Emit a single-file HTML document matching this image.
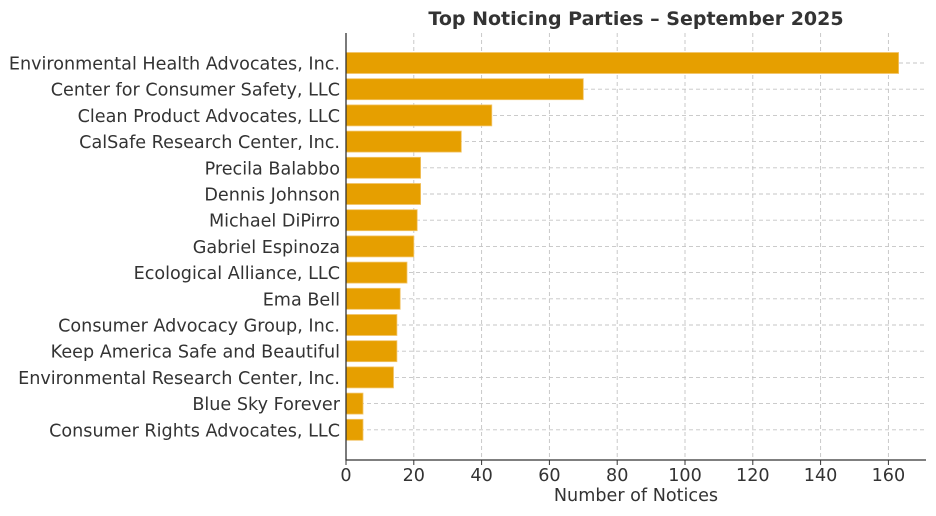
<!DOCTYPE html>
<html><head><meta charset="utf-8"><style>
html,body{margin:0;padding:0;background:#fff;}
svg{display:block;font-family:"DejaVu Sans","Liberation Sans",sans-serif;}
</style></head><body>
<svg width="936" height="516" viewBox="0 0 936 516" xmlns="http://www.w3.org/2000/svg">
<rect width="936" height="516" fill="#fff"/>
<g stroke="#c4c4c4" stroke-width="0.9" stroke-dasharray="4,3">
<line x1="413.8" y1="33" x2="413.8" y2="460"/>
<line x1="481.6" y1="33" x2="481.6" y2="460"/>
<line x1="549.4" y1="33" x2="549.4" y2="460"/>
<line x1="617.2" y1="33" x2="617.2" y2="460"/>
<line x1="685" y1="33" x2="685" y2="460"/>
<line x1="752.8" y1="33" x2="752.8" y2="460"/>
<line x1="820.6" y1="33" x2="820.6" y2="460"/>
<line x1="888.4" y1="33" x2="888.4" y2="460"/>
<line x1="346" y1="63" x2="925" y2="63"/>
<line x1="346" y1="89.2" x2="925" y2="89.2"/>
<line x1="346" y1="115.4" x2="925" y2="115.4"/>
<line x1="346" y1="141.6" x2="925" y2="141.6"/>
<line x1="346" y1="167.8" x2="925" y2="167.8"/>
<line x1="346" y1="194" x2="925" y2="194"/>
<line x1="346" y1="220.2" x2="925" y2="220.2"/>
<line x1="346" y1="246.4" x2="925" y2="246.4"/>
<line x1="346" y1="272.6" x2="925" y2="272.6"/>
<line x1="346" y1="298.8" x2="925" y2="298.8"/>
<line x1="346" y1="325" x2="925" y2="325"/>
<line x1="346" y1="351.2" x2="925" y2="351.2"/>
<line x1="346" y1="377.4" x2="925" y2="377.4"/>
<line x1="346" y1="403.6" x2="925" y2="403.6"/>
<line x1="346" y1="429.8" x2="925" y2="429.8"/>
</g>
<g fill="#E69F00" stroke="#f3c56a" stroke-width="0.8">
<rect x="346" y="52.5" width="552.6" height="21"/>
<rect x="346" y="78.7" width="237.3" height="21"/>
<rect x="346" y="104.9" width="145.8" height="21"/>
<rect x="346" y="131.1" width="115.3" height="21"/>
<rect x="346" y="157.3" width="74.6" height="21"/>
<rect x="346" y="183.5" width="74.6" height="21"/>
<rect x="346" y="209.7" width="71.2" height="21"/>
<rect x="346" y="235.9" width="67.8" height="21"/>
<rect x="346" y="262.1" width="61" height="21"/>
<rect x="346" y="288.3" width="54.2" height="21"/>
<rect x="346" y="314.5" width="50.9" height="21"/>
<rect x="346" y="340.7" width="50.9" height="21"/>
<rect x="346" y="366.9" width="47.5" height="21"/>
<rect x="346" y="393.1" width="17" height="21"/>
<rect x="346" y="419.3" width="17" height="21"/>
</g>
<g stroke="#333" stroke-width="1.3">
<line x1="346" y1="33" x2="346" y2="460.5"/>
<line x1="345.5" y1="460" x2="926" y2="460"/>
</g>
<g stroke="#333" stroke-width="1">
<line x1="346" y1="460" x2="346" y2="465"/><line x1="413.8" y1="460" x2="413.8" y2="465"/><line x1="481.6" y1="460" x2="481.6" y2="465"/><line x1="549.4" y1="460" x2="549.4" y2="465"/><line x1="617.2" y1="460" x2="617.2" y2="465"/><line x1="685" y1="460" x2="685" y2="465"/><line x1="752.8" y1="460" x2="752.8" y2="465"/><line x1="820.6" y1="460" x2="820.6" y2="465"/><line x1="888.4" y1="460" x2="888.4" y2="465"/>
</g>
<g fill="#333" font-size="17.6" text-anchor="middle">
<text x="346" y="481">0</text><text x="413.8" y="481">20</text><text x="481.6" y="481">40</text><text x="549.4" y="481">60</text><text x="617.2" y="481">80</text><text x="685" y="481">100</text><text x="752.8" y="481">120</text><text x="820.6" y="481">140</text><text x="888.4" y="481">160</text>
<text x="636" y="501">Number of Notices</text>
<text x="636" y="25" font-weight="bold" font-size="19">Top Noticing Parties – September 2025</text>
</g>
<g fill="#333" font-size="17.6" text-anchor="end">
<text x="340" y="69.5">Environmental Health Advocates, Inc.</text>
<text x="340" y="95.7">Center for Consumer Safety, LLC</text>
<text x="340" y="121.9">Clean Product Advocates, LLC</text>
<text x="340" y="148.1">CalSafe Research Center, Inc.</text>
<text x="340" y="174.3">Precila Balabbo</text>
<text x="340" y="200.5">Dennis Johnson</text>
<text x="340" y="226.7">Michael DiPirro</text>
<text x="340" y="252.9">Gabriel Espinoza</text>
<text x="340" y="279.1">Ecological Alliance, LLC</text>
<text x="340" y="305.3">Ema Bell</text>
<text x="340" y="331.5">Consumer Advocacy Group, Inc.</text>
<text x="340" y="357.7">Keep America Safe and Beautiful</text>
<text x="340" y="383.9">Environmental Research Center, Inc.</text>
<text x="340" y="410.1">Blue Sky Forever</text>
<text x="340" y="436.3">Consumer Rights Advocates, LLC</text>
</g>
</svg>
</body></html>
